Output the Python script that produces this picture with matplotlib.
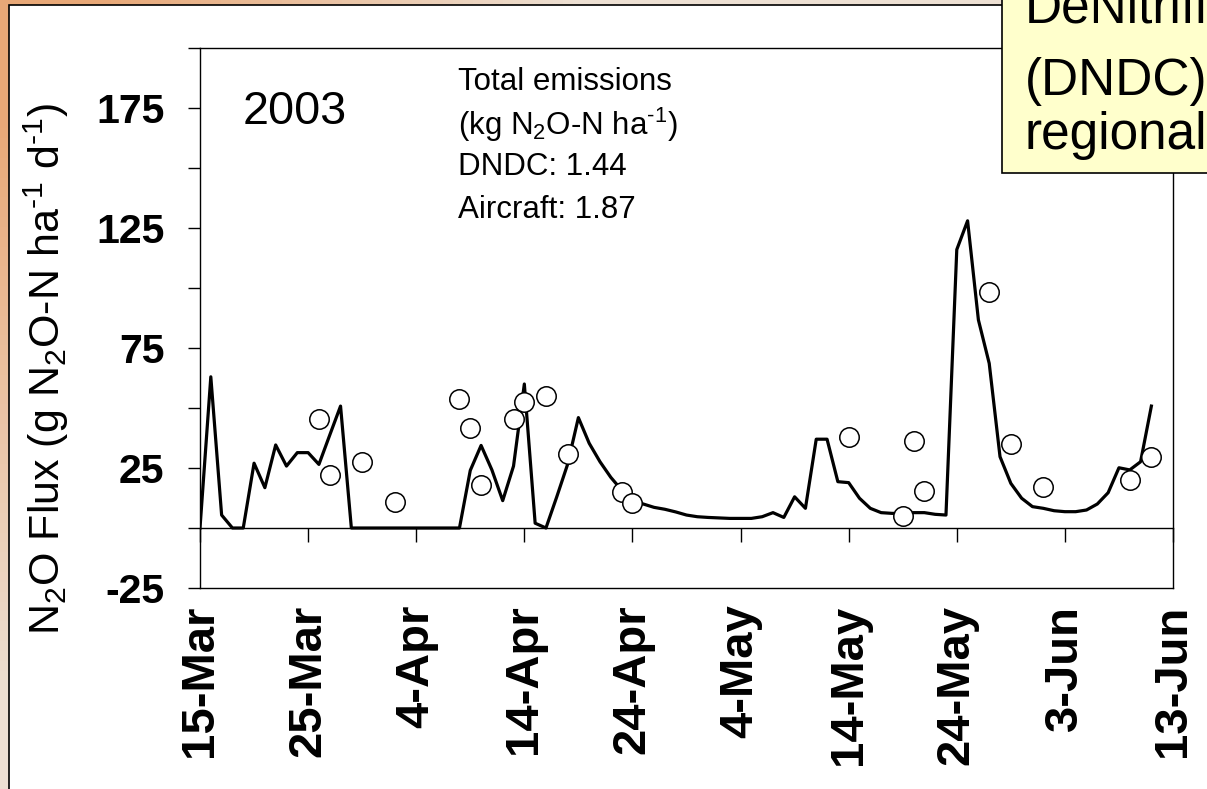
import matplotlib
matplotlib.use('Agg')
import matplotlib.pyplot as plt
import numpy as np
from matplotlib.patches import Rectangle

plt.rcParams['font.family'] = 'Liberation Sans'
plt.rcParams['mathtext.fontset'] = 'custom'
plt.rcParams['mathtext.rm'] = 'Liberation Sans'
plt.rcParams['mathtext.it'] = 'Liberation Sans:italic'
plt.rcParams['mathtext.bf'] = 'Liberation Sans:bold'

# days after 15 March 2003
tick_days = [0, 10, 20, 30, 40, 50, 60, 70, 80, 90]
tick_labels = ['15-Mar', '25-Mar', '4-Apr', '14-Apr', '24-Apr',
               '4-May', '14-May', '24-May', '3-Jun', '13-Jun']

# DNDC modelled daily flux, day 0..88
dndc_flux = [
    0, 63, 5.4, 0, 0, 27, 16.8, 34.6, 25.8, 31.4,
    31.4, 26.5, 38.7, 50.8, 0, 0, 0, 0, 0, 0,
    0, 0, 0, 0, 0, 24, 34.4, 24.2, 11.4, 25.8,
    60, 2, 0, 13, 26.5, 46, 35.3, 27.6, 21.1, 15.8,
    11.7, 10, 8.6, 7.8, 6.7, 5.4, 4.7, 4.4, 4.2, 4.0,
    4.0, 4.0, 4.7, 6.4, 4.4, 13, 8.2, 37, 37, 19.3,
    18.9, 12.4, 8.2, 6.4, 6.1, 6.1, 6.4, 6.4, 5.7, 5.4,
    116, 128, 86.7, 68.6, 29.7, 18.6, 12.4, 8.9, 8.2, 7.2,
    6.8, 6.8, 7.5, 10, 14.7, 25.1, 24.2, 27.6, 50.8,
]
dndc_days = list(range(len(dndc_flux)))

# aircraft flux estimates
air_days = [11, 12, 15, 18, 24, 25, 26, 29, 30, 32, 34, 39, 40,
            60, 65, 66, 67, 73, 75, 78, 86, 88]
air_flux = [45.3, 22.1, 27.6, 11, 53.8, 41.6, 17.9, 45.4, 52.5, 55, 30.8, 14.9, 10.3,
            38, 5, 36.4, 15.6, 98.5, 34.9, 17, 20, 29.4]

W, H = 1207, 789
fig = plt.figure(figsize=(W / 100, H / 100), dpi=100)

# slide background and chart frame
bg = fig.add_axes([0, 0, 1, 1], zorder=-5)
bg.set_xlim(0, W)
bg.set_ylim(H, 0)
bg.axis('off')
gx, gy = np.meshgrid(np.linspace(0, 1, 120), np.linspace(0, 1, 80))
w = np.clip(1.2 - np.sqrt((gx / 0.4) ** 2 + (gy / 0.75) ** 2), 0, 1)[..., None]
warm = np.array([0.91, 0.66, 0.47])
pale = np.array([0.93, 0.88, 0.83])
bg.imshow(pale * (1 - w) + warm * w, extent=(0, W, H, 0), aspect='auto')
bg.add_patch(Rectangle((9, 5), W + 50, H + 50, fc='white', ec='black', lw=1.2))

ax = fig.add_axes([200 / W, 1 - 588 / H, 973 / W, 540 / H], zorder=1)
ax.set_facecolor('white')
ax.plot(dndc_days, dndc_flux, color='black', lw=2.3, zorder=2)
ax.plot(air_days, air_flux, 'o', ms=14, mfc='white', mec='black', mew=1.1, zorder=3)
ax.set_xlim(0, 90)
ax.set_ylim(-25, 200)

for s in ax.spines.values():
    s.set_linewidth(1.0)
ax.spines['bottom'].set_position(('data', 0))

yt = np.arange(-25, 201, 25)
ax.set_yticks(yt)
ax.set_yticklabels([str(v) if v in (-25, 25, 75, 125, 175) else '' for v in yt])
ax.tick_params(axis='y', direction='out', length=8.5, width=1, pad=17, labelsize=29.5)
for lab in ax.get_yticklabels():
    lab.set_fontweight('bold')

ax.set_xticks(tick_days)
ax.tick_params(axis='x', direction='out', length=10, width=1, labelbottom=False)

sec = ax.secondary_xaxis('bottom')
sec.set_xticks(tick_days)
sec.set_xticklabels(tick_labels, rotation=90, fontweight='bold', fontsize=34)
sec.tick_params(length=0, pad=12)
sec.spines['bottom'].set_linewidth(1.0)

ax.set_ylabel('N$_2$O Flux (g N$_2$O-N ha$^{\u20101}$ d$^{\u20101}$)', fontsize=31)
ax.yaxis.set_label_coords(-0.133, 0.405)

ax.text(0.044, 0.859, '2003', fontsize=33.7, transform=ax.transAxes, va='baseline')
note_kw = dict(fontsize=22.5, transform=ax.transAxes, va='center')
ax.text(0.265, 0.937, 'Total emissions', **note_kw)
ax.text(0.265, 0.857, '(kg N$_2$O-N ha$^{\u20101}$)', **note_kw)
ax.text(0.265, 0.780, 'DNDC: 1.44', **note_kw)
ax.text(0.265, 0.700, 'Aircraft: 1.87', **note_kw)

# callout box on top of the chart
top = fig.add_axes([0, 0, 1, 1], zorder=10)
top.set_xlim(0, W)
top.set_ylim(H, 0)
top.axis('off')
top.patch.set_alpha(0)
top.add_patch(Rectangle((1002, -20), 300, 193, fc='#FFFFCC', ec='black', lw=1.2))
top.text(1025, 22, 'DeNitrification', fontsize=37, va='baseline')
top.text(1025, 95, '(DNDC)', fontsize=37, va='baseline')
top.text(1025, 149, 'regional', fontsize=37, va='baseline')

fig.savefig('out.png', dpi=100)
